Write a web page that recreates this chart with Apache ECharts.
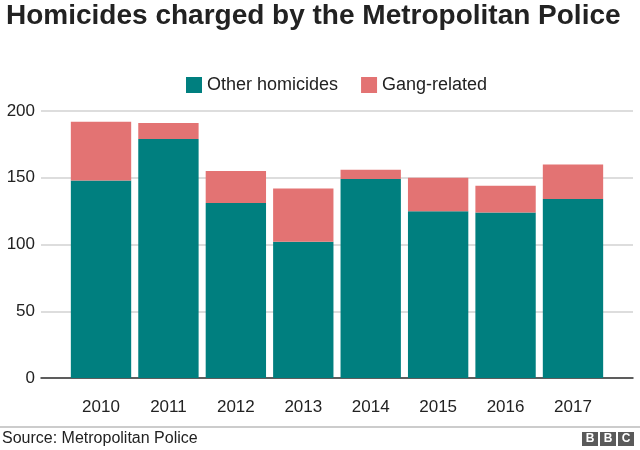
<!DOCTYPE html>
<html>
<head>
<meta charset="utf-8">
<script src="https://cdn.jsdelivr.net/npm/echarts@6/dist/echarts.min.js"></script>
<style>html,body{margin:0;padding:0;background:#fff;}#c{width:640px;height:450px;}</style>
</head>
<body>
<div id="c"></div>
<script>
var categories = ['2010','2011','2012','2013','2014','2015','2016','2017'];
var otherHomicides = [148, 179, 131, 102, 149, 125, 124, 134];
var gangRelated = [44, 12, 24, 40, 7, 25, 20, 26];
var yTicks = [0, 50, 100, 150, 200];

var FONT = '"Liberation Sans", Arial, sans-serif';
var chart = echarts.init(document.getElementById('c'), null, {renderer: 'canvas'});
chart.setOption({
  animation: false,
  backgroundColor: '#fff',
  title: {
    text: 'Homicides charged by the Metropolitan Police',
    left: 6, top: 2, padding: 0,
    textStyle: {fontFamily: FONT, fontSize: 28, fontWeight: 'bold', color: '#222'}
  },
  legend: {
    data: ['Other homicides', 'Gang-related'],
    left: 186, top: 76, padding: 0,
    itemWidth: 16, itemHeight: 16, itemGap: 23,
    icon: 'rect',
    textStyle: {fontFamily: FONT, fontSize: 18, color: '#222', padding: [0, 0, 0, 0]}
  },
  grid: [
    {left: 41, right: 7, top: 111, bottom: 72},
    {left: 67.3, right: 33.3, top: 111, bottom: 72}
  ],
  xAxis: [
    {gridIndex: 0, type: 'value', min: 0, max: 1, axisLabel: {show: false}, axisTick: {show: false}, splitLine: {show: false},
     axisLine: {show: true, lineStyle: {color: '#333', width: 1.5}}},
    {gridIndex: 1, type: 'category', data: categories, axisLine: {show: false}, axisTick: {show: false},
     axisLabel: {fontFamily: FONT, fontSize: 17, color: '#222', margin: 21}}
  ],
  yAxis: [
    {gridIndex: 0, type: 'value', min: yTicks[0], max: yTicks[yTicks.length - 1], interval: 50,
     axisLine: {show: false}, axisTick: {show: false},
     axisLabel: {fontFamily: FONT, fontSize: 17, color: '#222', margin: 6},
     splitLine: {lineStyle: {color: '#dddddd', width: 2}}},
    {gridIndex: 1, type: 'value', min: 0, max: 200, show: false}
  ],
  series: [
    {name: 'Other homicides', type: 'bar', stack: 'a', xAxisIndex: 1, yAxisIndex: 1, data: otherHomicides,
     barCategoryGap: '10.5%', itemStyle: {color: '#007f7f'}, z: 3},
    {name: 'Gang-related', type: 'bar', stack: 'a', xAxisIndex: 1, yAxisIndex: 1, data: gangRelated,
     barCategoryGap: '10.5%', itemStyle: {color: '#e37373'}, z: 3}
  ],
  graphic: [
    {type: 'line', shape: {x1: 0, y1: 427, x2: 640, y2: 427}, style: {stroke: '#999', lineWidth: 1}},
    {type: 'text', left: 2, top: 431, style: {text: 'Source: Metropolitan Police', font: '16px ' + FONT, fill: '#222'}},
    {type: 'group', left: 582, top: 432, children: [
      {type: 'rect', shape: {x: 0, y: 0, width: 16, height: 14}, style: {fill: '#5a5a5a'}},
      {type: 'rect', shape: {x: 18, y: 0, width: 16, height: 14}, style: {fill: '#5a5a5a'}},
      {type: 'rect', shape: {x: 36, y: 0, width: 16, height: 14}, style: {fill: '#5a5a5a'}},
      {type: 'text', x: 8, y: 7, style: {text: 'B', font: 'bold 12px ' + FONT, fill: '#fff', align: 'center', verticalAlign: 'middle'}},
      {type: 'text', x: 26, y: 7, style: {text: 'B', font: 'bold 12px ' + FONT, fill: '#fff', align: 'center', verticalAlign: 'middle'}},
      {type: 'text', x: 44, y: 7, style: {text: 'C', font: 'bold 12px ' + FONT, fill: '#fff', align: 'center', verticalAlign: 'middle'}}
    ]}
  ]
});
</script>
</body>
</html>
